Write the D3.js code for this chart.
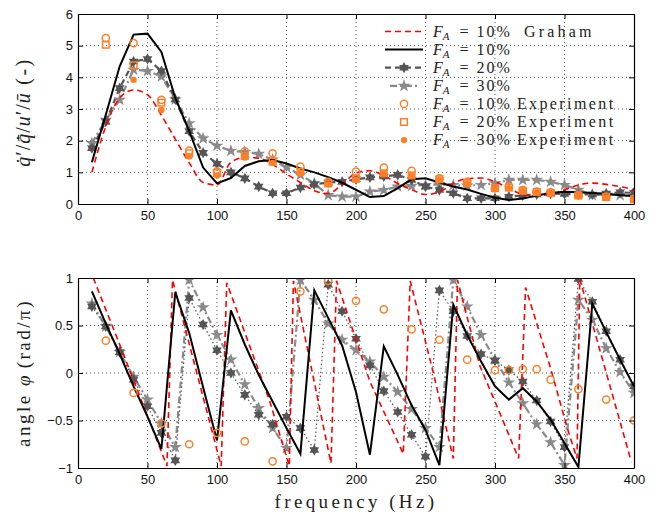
<!DOCTYPE html>
<html><head><meta charset="utf-8">
<script src="https://cdn.jsdelivr.net/npm/d3@7"></script>
<style>body{margin:0;background:#fff}</style>
</head><body><svg id="c" width="660" height="515"></svg>
<script>
// ---------------- data ----------------
const freq = [10,20,30,40,50,60,70,80,90,100,110,120,130,140,150,160,170,180,190,200,210,220,230,240,250,260,270,280,290,300,310,320,330,340,350,360,370,380,390,400];
const magGraham = [1.0,2.45,3.35,3.6,3.45,2.8,2.05,1.3,0.68,0.6,1.32,1.47,1.45,1.25,0.95,0.68,0.42,0.33,0.62,0.98,1.05,0.9,0.65,0.45,0.3,0.38,0.65,0.8,0.82,0.7,0.5,0.3,0.27,0.3,0.45,0.6,0.66,0.62,0.55,0.45];
const mag10 = [1.32,2.82,4.35,5.35,5.38,4.8,3.35,2.3,1.15,0.65,0.82,1.2,1.35,1.39,1.28,1.12,1.0,0.85,0.67,0.45,0.22,0.25,0.5,0.78,0.81,0.68,0.55,0.46,0.32,0.2,0.13,0.17,0.27,0.35,0.39,0.37,0.35,0.32,0.28,0.25];
const mag20 = [1.76,2.6,3.66,4.5,4.58,4.2,3.3,2.3,1.62,1.27,1.0,0.81,0.55,0.34,0.34,0.52,0.62,0.68,0.7,0.78,0.84,0.87,0.92,0.76,0.55,0.44,0.34,0.18,0.18,0.18,0.23,0.27,0.3,0.33,0.32,0.3,0.3,0.33,0.37,0.35];
const mag30 = [1.92,2.66,3.29,4.24,4.2,4.03,3.3,2.55,2.07,1.84,1.68,1.64,1.58,1.4,1.16,0.92,0.65,0.28,0.23,0.23,0.39,0.44,0.55,0.57,0.6,0.62,0.6,0.58,0.6,0.65,0.76,0.76,0.76,0.7,0.6,0.45,0.28,0.3,0.28,0.25];

const expFreq = [20,40,60,80,100,120,140,160,180,200,220,240,260,280,300,310,320,330,340,360,380,400];
const expMag10 = [5.24,5.08,3.29,1.69,1.03,1.66,1.6,1.18,0.7,1.02,1.15,1.05,0.81,0.7,0.5,0.55,0.44,0.39,0.37,0.28,0.23,0.16];
const expMag20 = [5.03,4.38,3.2,1.6,0.98,1.52,1.34,1.02,0.65,0.8,0.97,0.9,0.78,0.66,0.5,0.52,0.42,0.38,0.35,0.27,0.22,0.15];
const expMag30 = [null,3.92,2.97,1.5,0.9,1.47,1.3,0.97,0.62,0.76,0.95,0.88,0.76,0.64,0.48,0.5,0.41,0.37,0.34,0.27,0.21,0.14];
const expPhase10 = [0.34,-0.21,-0.53,-0.75,-0.63,-0.72,-0.93,0.86,0.97,0.76,0.67,0.46,0.35,0.14,0.03,0.03,0.04,0.04,-0.07,-0.17,-0.28,-0.5];

const phase10 = [0.86,0.52,0.2,-0.14,-0.46,-0.8,0.85,0.42,-0.15,-0.71,0.66,0.3,-0.02,-0.3,-0.58,-0.85,0.87,0.58,0.29,-0.2,-0.86,0.28,-0.02,-0.34,-0.6,-0.97,0.72,0.4,0.12,-0.14,-0.28,-0.16,-0.3,-0.49,-0.74,-0.99,0.73,0.43,0.14,-0.14];
const phase20 = [0.7,0.49,0.22,-0.07,-0.35,-0.63,-0.92,0.79,0.51,0.24,0.0,-0.23,-0.44,-0.54,-0.46,-0.58,-0.81,0.93,0.65,0.36,0.08,-0.19,-0.41,-0.65,-0.88,0.87,0.65,0.39,0.2,0.13,0.03,-0.09,-0.29,-0.51,-0.78,0.99,0.75,0.44,0.14,-0.14];
const phase30 = [0.73,0.49,0.22,-0.04,-0.28,-0.53,-0.78,0.98,0.69,0.4,0.14,-0.12,-0.37,-0.58,-0.79,0.98,0.77,0.52,0.35,0.24,0.12,-0.04,-0.2,-0.38,-0.58,-0.78,0.98,0.7,0.4,0.14,-0.1,-0.32,-0.54,-0.73,-0.97,0.77,0.56,0.26,0.01,-0.21];

const grahamPhaseFreq = [11,30,64,68,103,107,138,152,155,182,186,210,234,239,256,270,273,289,304,317,322,340,352,359,361,398];
const grahamPhase = [1.0,0.3,-0.98,0.98,-0.98,0.95,-0.3,-0.98,0.97,-0.95,0.97,-0.09,-0.85,0.97,-0.02,-0.9,0.98,0.08,-0.44,-0.9,0.9,0.05,-0.58,-0.9,0.99,-0.93];

const xTicks = [0,50,100,150,200,250,300,350,400];
const magTicks = [0,1,2,3,4,5,6];
const phaseTicks = [-1,-0.5,0,0.5,1];
const legendPct = ["10%","10%","20%","30%","10%","20%","30%"];
const legendSuffix = ["Graham","","","","Experiment","Experiment","Experiment"];

// ---------------- styles ----------------
const RED = "#ff0000", DARK = "#555555", LIGHT = "#8a8a8a", ORANGE = "#ff7f27";

const svg = d3.select("#c");
const x = d3.scaleLinear().domain([0,400]).range([78,634]);
const yM = d3.scaleLinear().domain([0,6]).range([204,14]);
const yP = d3.scaleLinear().domain([-1,1]).range([468,278]);

function hexagram(R){
  const r = R/Math.sqrt(3), pts=[];
  for(let i=0;i<12;i++){const a=-Math.PI/2+i*Math.PI/6, rr=i%2?r:R; pts.push([rr*Math.cos(a),rr*Math.sin(a)]);}
  return "M"+pts.map(p=>p.join(",")).join("L")+"Z";
}
const hexPath = hexagram(5.6);
const starPath = d3.symbol().type(d3.symbolStar).size(52)();

function drawPanel(y, ticks, id){
  const [x0,x1] = x.range(), [yb,yt] = y.range();
  const g = svg.append("g");
  g.selectAll(null).data(xTicks.slice(1,-1)).join("line")
    .attr("x1",d=>x(d)).attr("x2",d=>x(d)).attr("y1",yt).attr("y2",yb)
    .attr("stroke","#444").attr("stroke-width",0.9).attr("stroke-dasharray","1,3");
  g.selectAll(null).data(ticks.slice(1,-1)).join("line")
    .attr("y1",d=>y(d)).attr("y2",d=>y(d)).attr("x1",x0).attr("x2",x1)
    .attr("stroke","#444").attr("stroke-width",0.9).attr("stroke-dasharray","1,3");
  svg.append("clipPath").attr("id",id).append("rect")
    .attr("x",x0).attr("y",yt).attr("width",x1-x0).attr("height",yb-yt);
  return g;
}
function drawAxes(y, ticks, fmt){
  const [x0,x1] = x.range(), [yb,yt] = y.range();
  const style = sel => { sel.selectAll("text").attr("font-family","Liberation Sans, Arial, sans-serif").attr("font-size",13).attr("fill","#111");
    sel.selectAll("line").attr("stroke","#000"); sel.select(".domain").attr("stroke","#000").attr("stroke-width",1.2); };
  svg.append("g").attr("transform",`translate(0,${yb})`)
    .call(d3.axisBottom(x).tickValues(xTicks).tickSize(-5).tickSizeOuter(0).tickPadding(7)).call(style);
  svg.append("g").attr("transform",`translate(0,${yt})`)
    .call(d3.axisTop(x).tickValues(xTicks).tickSize(-5).tickSizeOuter(0).tickFormat("")).call(style);
  svg.append("g").attr("transform",`translate(${x0},0)`)
    .call(d3.axisLeft(y).tickValues(ticks).tickSize(-5).tickSizeOuter(0).tickPadding(5).tickFormat(fmt)).call(style);
  svg.append("g").attr("transform",`translate(${x1},0)`)
    .call(d3.axisRight(y).tickValues(ticks).tickSize(-5).tickSizeOuter(0).tickFormat("")).call(style);
}
const fmtMinus = d => (d<0?"\u2212":"") + Math.abs(d);

// ---------- top panel ----------
drawPanel(yM, magTicks, "clipTop");
const gt = svg.append("g").attr("clip-path","url(#clipTop)");
const lineM = (arr, curve) => d3.line().defined((d,i)=>arr[i]!=null).x((d,i)=>x(freq[i])).y((d,i)=>yM(arr[i])).curve(curve||d3.curveLinear)(freq);

gt.append("path").attr("d",lineM(mag30)).attr("fill","none").attr("stroke",LIGHT).attr("stroke-width",2.2).attr("stroke-dasharray","7,3,2,3");
gt.append("path").attr("d",lineM(mag20)).attr("fill","none").attr("stroke",DARK).attr("stroke-width",2.2).attr("stroke-dasharray","6,4");
gt.selectAll(null).data(freq).join("path").attr("d",starPath).attr("transform",(d,i)=>`translate(${x(d)},${yM(mag30[i])})`).attr("fill",LIGHT);
gt.selectAll(null).data(freq).join("path").attr("d",hexPath).attr("transform",(d,i)=>`translate(${x(d)},${yM(mag20[i])})`).attr("fill",DARK);
gt.append("path").attr("d",lineM(magGraham, d3.curveMonotoneX)).attr("fill","none").attr("stroke",RED).attr("stroke-width",1.6).attr("stroke-dasharray","6,4");
gt.append("path").attr("d",lineM(mag10)).attr("fill","none").attr("stroke","#000").attr("stroke-width",2);
gt.selectAll(null).data(expFreq).join("circle").attr("cx",d=>x(d)).attr("cy",(d,i)=>yM(expMag10[i])).attr("r",3.6)
  .attr("fill","none").attr("stroke",ORANGE).attr("stroke-width",1.5);
gt.selectAll(null).data(expFreq).join("rect").attr("x",d=>x(d)-3.3).attr("y",(d,i)=>yM(expMag20[i])-3.3).attr("width",6.6).attr("height",6.6)
  .attr("fill","none").attr("stroke",ORANGE).attr("stroke-width",1.5);
gt.selectAll(null).data(expFreq.filter((d,i)=>expMag30[i]!=null)).join("circle").attr("cx",d=>x(d))
  .attr("cy",d=>yM(expMag30[expFreq.indexOf(d)])).attr("r",3.2).attr("fill",ORANGE);
drawAxes(yM, magTicks, d=>d);

// ---------- bottom panel ----------
drawPanel(yP, phaseTicks, "clipBot");
const gb = svg.append("g").attr("clip-path","url(#clipBot)");
const lineP = arr => d3.line().x((d,i)=>x(freq[i])).y((d,i)=>yP(arr[i]))(freq);
gb.append("path").attr("d",lineP(phase30)).attr("fill","none").attr("stroke",LIGHT).attr("stroke-width",2.2).attr("stroke-dasharray","7,3,2,3");
gb.append("path").attr("d",lineP(phase20)).attr("fill","none").attr("stroke",DARK).attr("stroke-width",1.2).attr("stroke-dasharray","1.5,2.5");
gb.selectAll(null).data(freq).join("path").attr("d",starPath).attr("transform",(d,i)=>`translate(${x(d)},${yP(phase30[i])})`).attr("fill",LIGHT);
gb.selectAll(null).data(freq).join("path").attr("d",hexPath).attr("transform",(d,i)=>`translate(${x(d)},${yP(phase20[i])})`).attr("fill",DARK);
gb.append("path").attr("d",d3.line().x((d,i)=>x(grahamPhaseFreq[i])).y((d,i)=>yP(grahamPhase[i]))(grahamPhaseFreq))
  .attr("fill","none").attr("stroke",RED).attr("stroke-width",1.6).attr("stroke-dasharray","6,4");
gb.append("path").attr("d",lineP(phase10)).attr("fill","none").attr("stroke","#000").attr("stroke-width",2);
gb.selectAll(null).data(expFreq).join("circle").attr("cx",d=>x(d)).attr("cy",(d,i)=>yP(expPhase10[i])).attr("r",3.6)
  .attr("fill","none").attr("stroke",ORANGE).attr("stroke-width",1.5);
drawAxes(yP, phaseTicks, fmtMinus);

// ---------- legend ----------
const serif = "Liberation Serif, DejaVu Serif, serif";
const lg = svg.append("g");
const lx0 = 385, lx1 = 423, lxm = 404, tx = 433;
legendPct.forEach((p,i)=>{
  const yy = 31.5 + i*18.1;
  const row = lg.append("g");
  if(i===0) row.append("line").attr("x1",lx0).attr("x2",lx1).attr("y1",yy).attr("y2",yy).attr("stroke",RED).attr("stroke-width",1.6).attr("stroke-dasharray","6,4");
  if(i===1) row.append("line").attr("x1",lx0).attr("x2",lx1).attr("y1",yy).attr("y2",yy).attr("stroke","#000").attr("stroke-width",2);
  if(i===2){ row.append("line").attr("x1",lx0).attr("x2",lx1).attr("y1",yy).attr("y2",yy).attr("stroke",DARK).attr("stroke-width",2.2).attr("stroke-dasharray","6,4");
    row.append("path").attr("d",hexPath).attr("transform",`translate(${lxm},${yy})`).attr("fill",DARK); }
  if(i===3){ row.append("line").attr("x1",lx0+5).attr("x2",lx1-5).attr("y1",yy).attr("y2",yy).attr("stroke",LIGHT).attr("stroke-width",2.2).attr("stroke-dasharray","7,3,2,3");
    row.append("path").attr("d",starPath).attr("transform",`translate(${lxm},${yy})`).attr("fill",LIGHT); }
  if(i===4) row.append("circle").attr("cx",lxm).attr("cy",yy).attr("r",3.6).attr("fill","none").attr("stroke",ORANGE).attr("stroke-width",1.5);
  if(i===5) row.append("rect").attr("x",lxm-3.3).attr("y",yy-3.3).attr("width",6.6).attr("height",6.6).attr("fill","none").attr("stroke",ORANGE).attr("stroke-width",1.5);
  if(i===6) row.append("circle").attr("cx",lxm).attr("cy",yy).attr("r",3.2).attr("fill",ORANGE);
  const t = row.append("text").attr("x",tx).attr("y",yy+5).attr("font-family",serif).attr("font-size",16).attr("fill","#222");
  t.append("tspan").attr("font-style","italic").text("F");
  t.append("tspan").attr("font-style","italic").attr("font-size",11).attr("dy",3).text("A");
  t.append("tspan").attr("dy",-3).attr("dx",10).text("=");
  t.append("tspan").attr("dx",8).attr("letter-spacing",2).text(p);
  if(legendSuffix[i]) t.append("tspan").attr("dx",i===0?12:5).attr("letter-spacing",i===0?3.2:2.4).text(legendSuffix[i]);
});

// ---------- axis labels ----------
svg.append("text").attr("x",356).attr("y",508).attr("text-anchor","middle").attr("font-family",serif)
  .attr("font-size",19).attr("letter-spacing",3.4).attr("fill","#222").text("frequency (Hz)");
const yl1 = svg.append("text").attr("transform","translate(30,112) rotate(-90)").attr("text-anchor","middle")
  .attr("font-family",serif).attr("font-size",20).attr("letter-spacing",1).attr("fill","#222");
yl1.append("tspan").attr("font-style","italic").text("q\u0307");
yl1.append("tspan").text("\u2032/");
yl1.append("tspan").attr("font-style","italic").text("q\u0307\u0304");
yl1.append("tspan").text("/");
yl1.append("tspan").attr("font-style","italic").text("u");
yl1.append("tspan").text("\u2032/");
yl1.append("tspan").attr("font-style","italic").text("u\u0304");
yl1.append("tspan").attr("letter-spacing",2.5).text(" (-)");
const yl2 = svg.append("text").attr("transform","translate(30,373) rotate(-90)").attr("text-anchor","middle")
  .attr("font-family",serif).attr("font-size",19).attr("fill","#222");
yl2.append("tspan").attr("letter-spacing",2.5).text("angle ");
yl2.append("tspan").attr("font-style","italic").text("\u03c6");
yl2.append("tspan").attr("letter-spacing",2.5).text(" (rad/\u03c0)");
</script>
</body></html>
